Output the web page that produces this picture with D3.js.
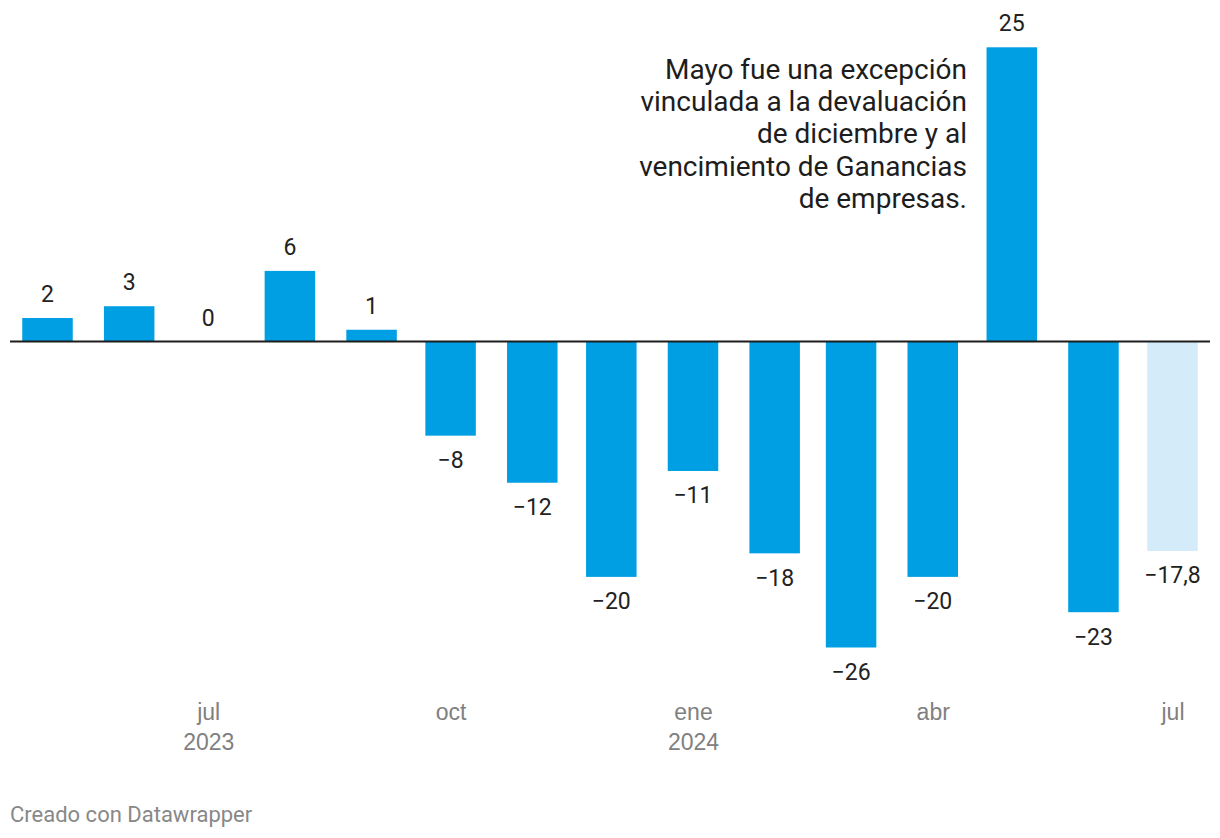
<!DOCTYPE html>
<html>
<head>
<meta charset="utf-8">
<script src="https://cdn.jsdelivr.net/npm/d3@7"></script>
<style>
  html, body { margin: 0; padding: 0; background: #fff; }
  svg { display: block; font-family: Roboto, "Noto Sans", sans-serif; }
</style>
</head>
<body>
<svg id="chart" width="1220" height="838"></svg>
<script>
// ---- data ----
const months = ["2023-05","2023-06","2023-07","2023-08","2023-09","2023-10","2023-11","2023-12","2024-01","2024-02","2024-03","2024-04","2024-05","2024-06","2024-07"];
const values = [2, 3, 0, 6, 1, -8, -12, -20, -11, -18, -26, -20, 25, -23, -17.8];
const estimated = [false,false,false,false,false,false,false,false,false,false,false,false,false,false,true];
const tickMonths = ["2023-07","2023-10","2024-01","2024-04","2024-07"];
const tickLabels = [["jul","2023"],["oct"],["ene","2024"],["abr"],["jul"]];
const noteLines = ["Mayo fue una excepción","vinculada a la devaluación","de diciembre y al","vencimiento de Ganancias","de empresas."];
const footer = "Creado con Datawrapper";

// ---- scales ----
const parse = d3.timeParse("%Y-%m");
const svg = d3.select("#chart");
const x = d3.scaleTime()
  .domain([parse(months[0]), parse(months[months.length-1])])
  .range([47.5, 1172.5]);
const y = d3.scaleLinear().domain([-26, 25]).range([647.5, 47.3]);
const barW = 50.5;

const data = months.map((m,i) => ({date: parse(m), v: values[i], est: estimated[i]}));

const fmt = v => {
  const s = Number.isInteger(v) ? String(Math.abs(v)) : String(Math.abs(v)).replace(".", ",");
  return (v < 0 ? "\u2212" : "") + s;
};

// bars
svg.append("g").selectAll("rect").data(data).join("rect")
  .attr("x", d => x(d.date) - barW/2)
  .attr("width", barW)
  .attr("y", d => Math.min(y(d.v), y(0)))
  .attr("height", d => Math.abs(y(d.v) - y(0)))
  .attr("fill", d => d.est ? "#d4ebf9" : "#009fe3");

// zero line
svg.append("line")
  .attr("x1", 10).attr("x2", 1210)
  .attr("y1", y(0)).attr("y2", y(0))
  .attr("stroke", "#1d1d1d").attr("stroke-width", 2);

// value labels
svg.append("g").selectAll("text").data(data).join("text")
  .attr("x", d => x(d.date))
  .attr("y", d => d.v >= 0 ? y(d.v) - 16 : y(d.v) + 32.5)
  .attr("text-anchor", "middle")
  .attr("font-size", 23)
  .attr("fill", "#222")
  .text(d => fmt(d.v));

// x axis
const axis = d3.axisBottom(x)
  .tickValues(tickMonths.map(parse))
  .tickSize(0)
  .tickFormat("");
const gx = svg.append("g").attr("transform", "translate(0,700)").call(axis);
gx.select(".domain").remove();
gx.selectAll(".tick").each(function(d, i) {
  const t = d3.select(this).append("text")
    .attr("text-anchor", "middle")
    .attr("font-size", 23)
    .attr("fill", "#808080");
  tickLabels[i].forEach((line, j) => {
    t.append("tspan").attr("x", 0).attr("y", 19.5 + j * 30).text(line);
  });
});

// annotation
const note = svg.append("text")
  .attr("text-anchor", "end")
  .attr("font-size", 28)
  .attr("fill", "#1d1d1d");
noteLines.forEach((l, i) => {
  note.append("tspan").attr("x", 967).attr("y", 79 + i * 32.2).text(l);
});

// footer
svg.append("text")
  .attr("x", 10).attr("y", 822)
  .attr("font-size", 22)
  .attr("fill", "#888")
  .text(footer);
</script>
</body>
</html>
